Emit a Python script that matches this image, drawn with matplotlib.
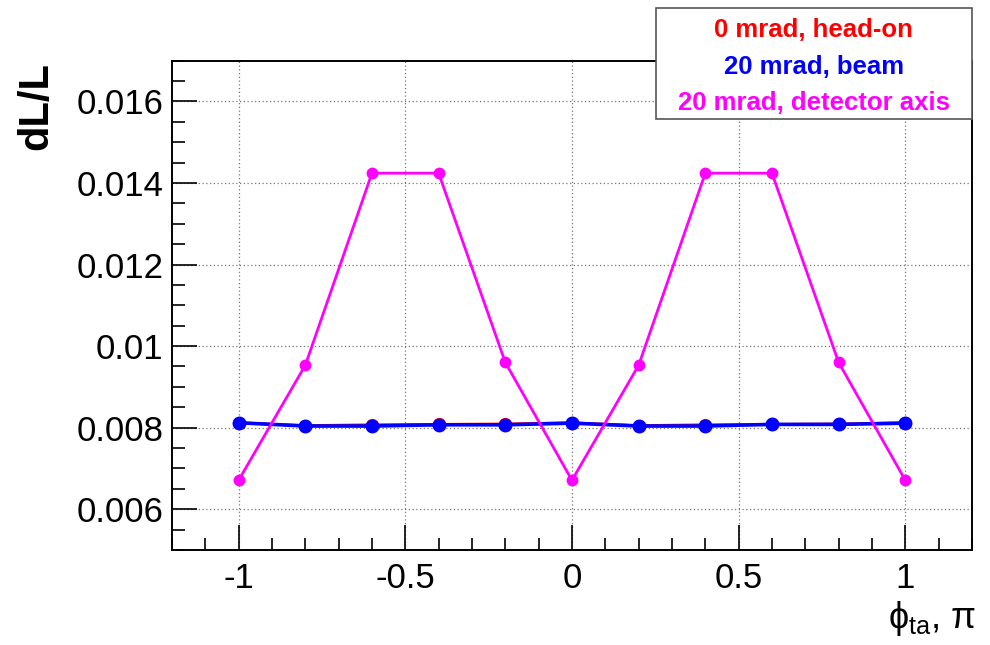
import numpy as np
import matplotlib.pyplot as plt
from matplotlib.patches import Rectangle
from matplotlib.ticker import MultipleLocator

plt.rcParams['font.family'] = ['Liberation Sans', 'DejaVu Sans']
plt.rcParams['mathtext.fontset'] = 'custom'
plt.rcParams['mathtext.rm'] = 'Liberation Sans'
plt.rcParams['mathtext.it'] = 'Liberation Sans'

phi = [-1.0, -0.8, -0.6, -0.4, -0.2, 0.0, 0.2, 0.4, 0.6, 0.8, 1.0]
headon = [0.00812, 0.00805, 0.00807, 0.00808, 0.00809, 0.00812, 0.00805, 0.00807, 0.00808, 0.00809, 0.00812]
beam = [0.00812, 0.00804, 0.00804, 0.00807, 0.00807, 0.00811, 0.00804, 0.00804, 0.00808, 0.00808, 0.00811]
detector = [0.00671, 0.00953, 0.01424, 0.01424, 0.0096, 0.00671, 0.00953, 0.01424, 0.01424, 0.0096, 0.00671]

fig = plt.figure(figsize=(9.9, 6.45), dpi=100)
ax = fig.add_axes([0.1737, 0.1473, 0.8081, 0.7587])

ax.plot(phi, headon, color='red', lw=2.0, marker='o', ms=8.5)
ax.plot(phi, beam, color='blue', lw=2.6, marker='o', ms=9)
ax.plot(phi, detector, color='#ff00ff', lw=2.0, marker='o', ms=7.5)

ax.set_xlim(-1.2, 1.2)
ax.set_ylim(0.005, 0.017)
ax.xaxis.set_minor_locator(MultipleLocator(0.1))
ax.yaxis.set_minor_locator(MultipleLocator(0.0005))
ax.set_yticks([0.006, 0.008, 0.01, 0.012, 0.014, 0.016])
ax.set_yticklabels(['0.006', '0.008', '0.01', '0.012', '0.014', '0.016'])
ax.set_xticks([-1, -0.5, 0, 0.5, 1])
ax.set_xticklabels(['-1', '-0.5', '0', '0.5', '1'])
ax.tick_params(which='both', direction='in', top=False, right=False, labelsize=25, width=1.2)
ax.tick_params(which='major', length=18)
ax.tick_params(which='minor', length=9)
ax.tick_params(axis='y', pad=6)
ax.tick_params(axis='x', pad=9)
ax.grid(True, which='major', color='#777777', ls=(0, (1, 2)), lw=0.9)
for s in ax.spines.values():
    s.set_linewidth(1.4)

fig.text(0.037, 1 - 62 / 645, 'dL/L', rotation=90, ha='center', va='top',
         fontsize=30, fontweight='bold')
fig.text(0.986, 1 - 619 / 645, r'$\mathrm{\phi}_{\mathrm{ta}}$, π', ha='right', va='center',
         fontsize=26)

# legend box
fig.patches.append(Rectangle((0.6626, 0.8155), 0.319, 0.172, transform=fig.transFigure,
                             facecolor='white', edgecolor='#555555', lw=1.2, zorder=10))
labels = ['0 mrad, head-on', '20 mrad, beam', '20 mrad, detector axis']
colors = ['red', 'blue', '#ff00ff']
ys = [30, 67, 103]
for lab, col, yy in zip(labels, colors, ys):
    fig.text(0.8221, 1 - yy / 645, lab, color=col, ha='center', va='center',
             fontsize=18.5, fontweight='bold', zorder=11)

fig.savefig('out.png', dpi=100)
